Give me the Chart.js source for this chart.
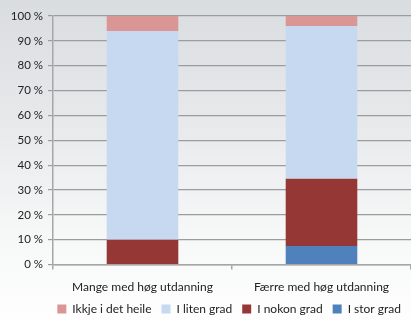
<!DOCTYPE html>
<html>
<head>
<meta charset="utf-8">
<script src="https://cdn.jsdelivr.net/npm/chart.js@4/dist/chart.umd.min.js"></script>
<style>
    html, body { margin: 0; padding: 0; }
    body {
        width: 411px;
        height: 330px;
        overflow: hidden;
        background: linear-gradient(180deg, #dadde0 0%, #e6e8ea 35%, #f6f7f7 70%, #ffffff 100%);
    }
    #wrap { position: relative; width: 411px; height: 330px; }
</style>
</head>
<body>
<div id="wrap"><canvas id="chart"></canvas></div>
<script>
// Kategoriar og delar (prosent) for kvar gruppe
const categories = ['Mange med høg utdanning', 'Færre med høg utdanning'];
const storGrad = [0, 7.5];
const nokonGrad = [10, 27];
const litenGrad = [84, 61.5];
const ikkjeHeile = [6, 4];
const yTicks = [0, 10, 20, 30, 40, 50, 60, 70, 80, 90, 100];

const fontFamily = 'Lato, "Open Sans", sans-serif';
Chart.defaults.font.family = fontFamily;
Chart.defaults.color = '#222222';

const ctx = document.getElementById('chart').getContext('2d');

new Chart(ctx, {
    type: 'bar',
    data: {
        labels: categories,
        datasets: [
            { label: 'I stor grad', data: storGrad, backgroundColor: '#4f81bd' },
            { label: 'I nokon grad', data: nokonGrad, backgroundColor: '#953735' },
            { label: 'I liten grad', data: litenGrad, backgroundColor: '#c6d9f1' },
            { label: 'Ikkje i det heile', data: ikkjeHeile, backgroundColor: '#d99694' }
        ]
    },
    options: {
        responsive: true,
        maintainAspectRatio: false,
        animation: false,
        datasets: {
            bar: {
                categoryPercentage: 1,
                barPercentage: 0.4,
                borderWidth: 0
            }
        },
        layout: {
            padding: { left: 0, right: 0, top: 16, bottom: 5 }
        },
        plugins: {
            tooltip: { enabled: false },
            legend: {
                position: 'bottom',
                align: 'end',
                reverse: true,
                labels: {
                    boxWidth: 9,
                    boxHeight: 9,
                    padding: 10,
                    font: { size: 12 },
                    color: '#222222'
                }
            }
        },
        scales: {
            x: {
                stacked: true,
                // labels sit lower than the axis box, leaving the plot taller
                afterFit: (axis) => {
                    axis.height -= 11;
                },
                grid: {
                    drawOnChartArea: false,
                    drawTicks: true,
                    tickLength: 5,
                    color: '#a6a6a6',
                    lineWidth: 1.5
                },
                border: { display: true, color: '#a6a6a6', width: 1.5 },
                ticks: {
                    padding: 10,
                    font: { size: 12 },
                    color: '#222222'
                }
            },
            y: {
                stacked: true,
                min: 0,
                max: 100,
                afterBuildTicks: (axis) => {
                    axis.ticks = yTicks.map(v => ({ value: v }));
                },
                afterFit: (axis) => {
                    axis.width = 53;
                },
                grid: {
                    color: '#9c9c9c',
                    lineWidth: 1.2,
                    tickLength: 5
                },
                border: { display: true, color: '#a6a6a6', width: 1.5 },
                ticks: {
                    padding: 5,
                    font: { size: 11.5 },
                    color: '#222222',
                    callback: (value) => value + ' %'
                }
            }
        }
    }
});
</script>
</body>
</html>
